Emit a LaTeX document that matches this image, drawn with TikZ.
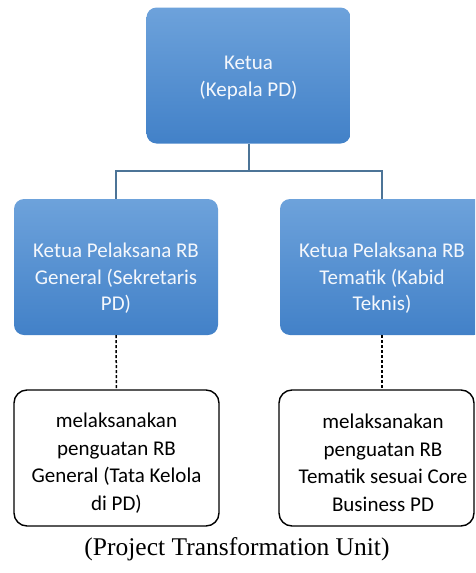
\documentclass[tikz,border=0pt]{standalone}
\usepackage{fontspec}
\setmainfont{Carlito}
\newfontfamily\capfont{Liberation Serif}
\definecolor{bluetop}{HTML}{6DA2DB}
\definecolor{bluebot}{HTML}{4281C8}
\definecolor{linkcol}{HTML}{4C7497}
\definecolor{txtwhite}{HTML}{F4F7FC}
\tikzset{
  bluebox/.style={rounded corners=10pt, top color=bluetop, bottom color=bluebot, draw=none,
    minimum width=204pt, minimum height=136pt, inner sep=0pt},
  whitebox/.style={rounded corners=13pt, draw=black, line width=1.4pt, fill=white,
    minimum height=136pt, inner sep=0pt},
  bluetext/.style={text=txtwhite, align=center, inner sep=0pt, font=\fontsize{21}{26.5}\selectfont},
  whitetext/.style={align=center, inner sep=0pt, font=\fontsize{21}{27.5}\selectfont},
  link/.style={draw=linkcol, line width=2pt},
  dashlink/.style={draw=black, line width=1.5pt, dash pattern=on 3pt off 2pt}
}
\begin{document}
\begin{tikzpicture}[x=1pt,y=1pt]
\useasboundingbox (0,0) rectangle (475,-573);
\clip (0,0) rectangle (475,-573);
% boxes
\node[bluebox] (top) at (248.5,-75.5) {};
\node[bluebox] (lb) at (116,-267) {};
\node[bluebox] (rb) at (382,-267) {};
\node[bluetext] (topt) at (248.5,-78) {Ketua\\(Kepala PD)};
\node[bluetext] (lbt) at (116,-278.5) {Ketua Pelaksana RB\\General (Sekretaris\\PD)};
\node[bluetext] (rbt) at (382,-278.5) {Ketua Pelaksana RB\\Tematik (Kabid\\Teknis)};
\node[whitebox, minimum width=205pt] (lw) at (116.5,-458) {};
\node[whitebox, minimum width=195pt] (rw) at (376.5,-458) {};
\node[whitetext] (lwt) at (116.5,-463) {melaksanakan\\penguatan RB\\General (Tata Kelola\\di PD)};
\node[whitetext] (rwt) at (383,-463) {melaksanakan\\penguatan RB\\Tematik sesuai Core\\Business PD};
% connectors
\coordinate (mid) at (248.5,-171);
\draw[link] (top.south) -- (mid);
\draw[link] (mid) -| (lb.north);
\draw[link] (mid) -| (rb.north);
\draw[dashlink] (lb.south) -- (lw.north);
\draw[dashlink] (rb.south) -- (rb.south |- rw.north);
% caption
\node[font=\capfont\fontsize{25.5}{30}\selectfont, inner sep=0pt] (cap) at (237,-549) {(Project Transformation Unit)};
\end{tikzpicture}
\end{document}
